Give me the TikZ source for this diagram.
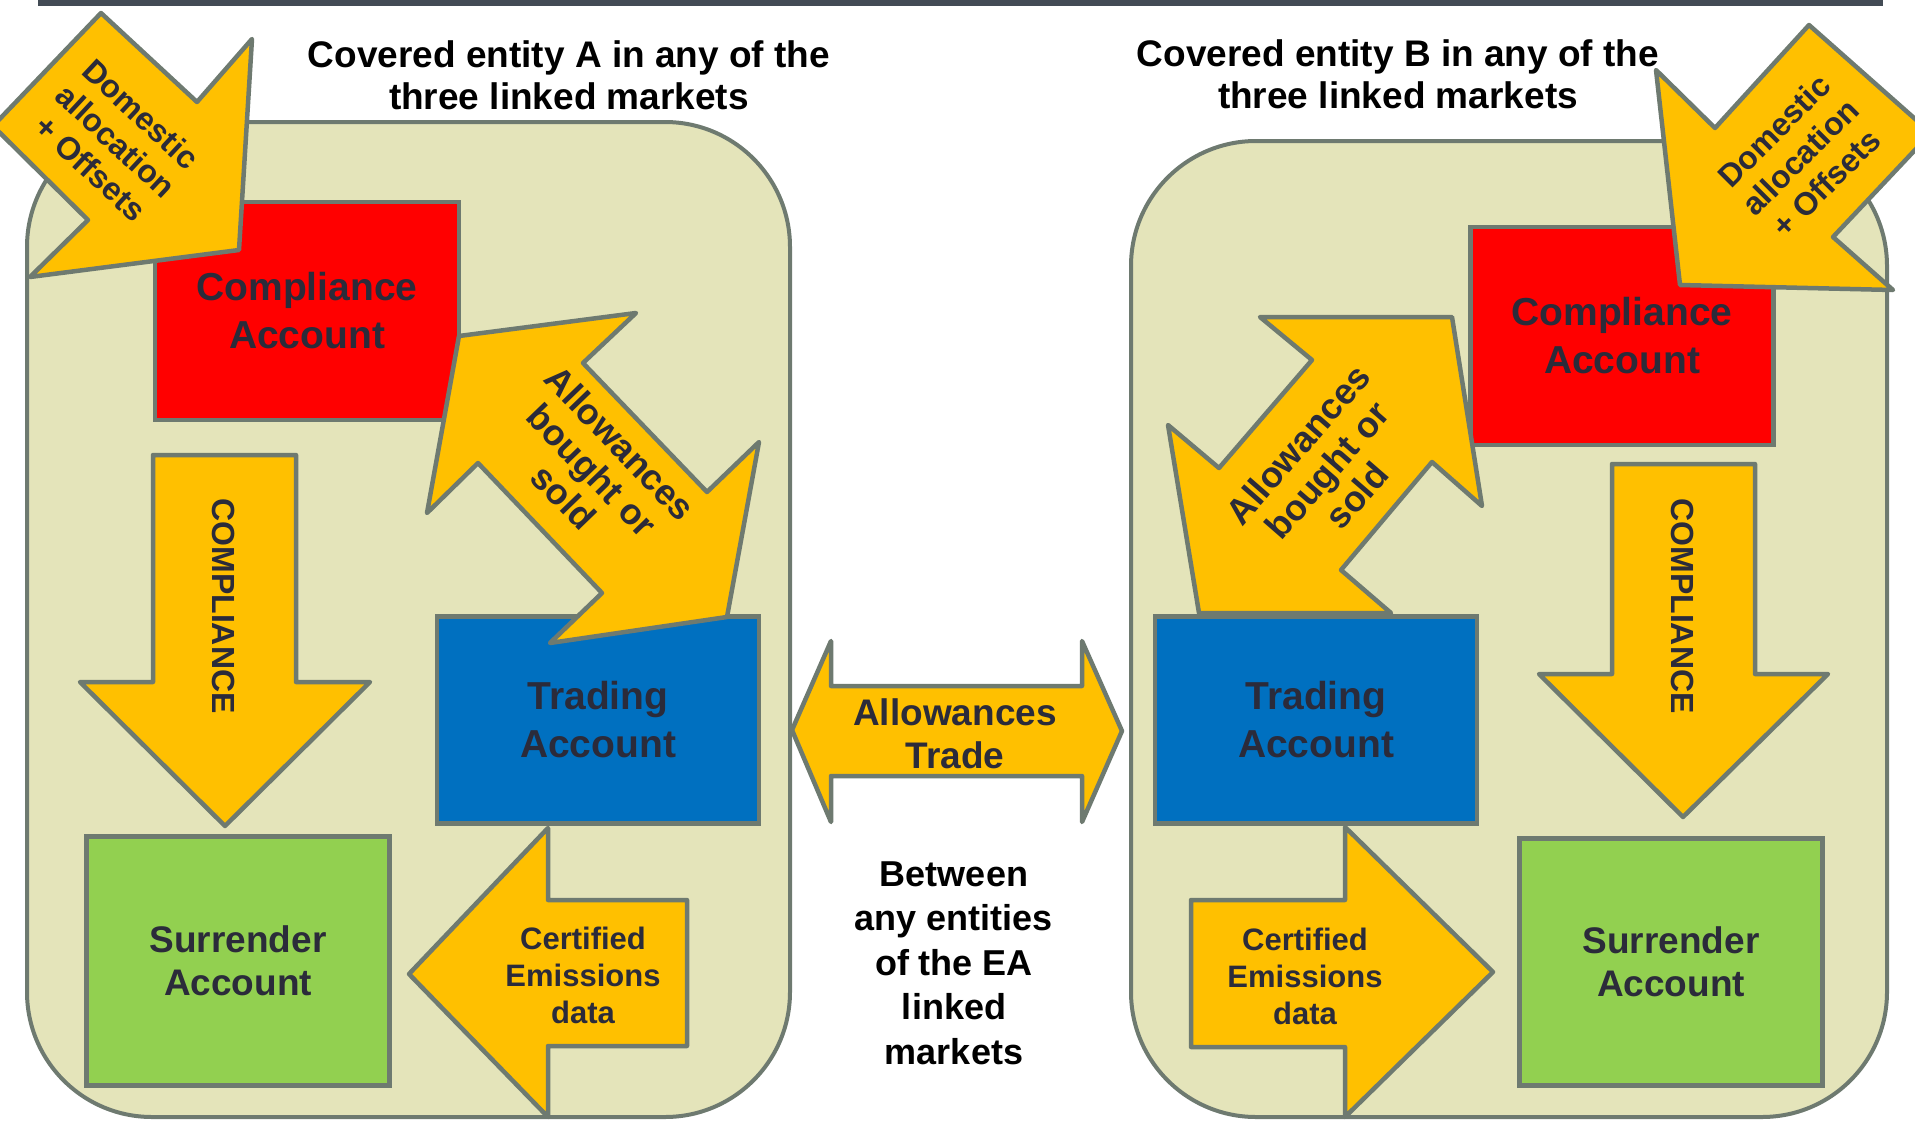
\documentclass[tikz,border=0pt]{standalone}
\usepackage{fontspec}
\setmainfont{Liberation Sans}
\definecolor{amber}{RGB}{255,192,0}
\definecolor{edgegray}{RGB}{110,122,112}
\definecolor{panelkhaki}{RGB}{228,228,186}
\definecolor{accred}{RGB}{255,0,0}
\definecolor{accblue}{RGB}{0,112,192}
\definecolor{accgreen}{RGB}{146,208,80}
\definecolor{inktext}{RGB}{43,43,58}
\definecolor{barslate}{RGB}{67,75,85}
\begin{document}
\begin{tikzpicture}[x=1pt,y=-1pt,
  panel/.style={draw=edgegray,line width=4pt,fill=panelkhaki,rounded corners=125pt},
  account/.style={draw=edgegray,line width=4.5pt,text=inktext,align=center,inner sep=0pt,
    font=\bfseries\fontsize{39}{48}\selectfont},
  fatarrow/.style={draw=edgegray,line width=4.5pt,fill=amber,line join=round},
  arrowtext/.style={text=inktext,align=center,inner sep=0pt},
  headline/.style={text=black,align=center,inner sep=0pt}]
\useasboundingbox (0,0) rectangle (1915,1122);
\clip (0,0) rectangle (1915,1122);
% bandeau du haut
\fill [barslate] (38,0) rectangle (1883,6);
% cadres des deux entites
\draw [panel] (27,122) rectangle (790,1117);
\draw [panel] (1131,141) rectangle (1887,1117);
% titres
\node [headline,font=\bfseries\fontsize{37}{42}\selectfont] (titleA) at (569,75) {Covered entity A in any of the\\three linked markets};
\node [headline,font=\bfseries\fontsize{37}{42}\selectfont] (titleB) at (1398,74) {Covered entity B in any of the\\three linked markets};
% comptes entite A
\node [account,fill=accred,minimum width=304,minimum height=218] (complA) at (307,311) {Compliance\\Account};
\node [account,fill=accblue,minimum width=322,minimum height=207] (tradeA) at (598,720) {Trading\\Account};
\node [account,fill=accgreen,minimum width=303,minimum height=249,font=\bfseries\fontsize{37}{43}\selectfont] (surrA) at (238,961) {Surrender\\Account};
% comptes entite B
\node [account,fill=accred,minimum width=303,minimum height=218] (complB) at (1622,336) {Compliance\\Account};
\node [account,fill=accblue,minimum width=322,minimum height=207] (tradeB) at (1316,720) {Trading\\Account};
\node [account,fill=accgreen,minimum width=303,minimum height=247,font=\bfseries\fontsize{37}{43}\selectfont] (surrB) at (1671,962) {Surrender\\Account};
% fleches entite A
\draw [fatarrow] (101,13) -- (197,102) -- (252,39) -- (239,250) -- (30,277) -- (88,220) -- (-7,126) -- cycle;
\draw [fatarrow] (459,336) -- (636,313) -- (583,363) -- (707,492) -- (759,442) -- (727,617) -- (550,643) -- (602,593) -- (478,463) -- (427,513) -- cycle;
\draw [fatarrow] (153,455) -- (296,455) -- (296,682) -- (370,682) -- (225,826) -- (80,682) -- (153,682) -- cycle;
\draw [fatarrow] (409,974) -- (548,828) -- (548,900) -- (687,900) -- (687,1046) -- (548,1046) -- (548,1117) -- cycle;
% fleches entite B
\draw [fatarrow] (1809,25) -- (1715,128) -- (1656,70) -- (1680,285) -- (1893,290) -- (1833,237) -- (1931,133) -- cycle;
\draw [fatarrow] (1260,317) -- (1452,317) -- (1482,506) -- (1432,462) -- (1341,570) -- (1391,613) -- (1199,613) -- (1168,425) -- (1219,468) -- (1312,360) -- cycle;
\draw [fatarrow] (1612,464) -- (1755,464) -- (1755,674) -- (1828,674) -- (1683,817) -- (1539,674) -- (1612,674) -- cycle;
\draw [fatarrow] (1191,900) -- (1345,900) -- (1345,827) -- (1493,972) -- (1345,1117) -- (1345,1047) -- (1191,1047) -- cycle;
% echange entre A et B
\draw [fatarrow] (792,730) -- (831,641) -- (831,686) -- (1082,686) -- (1082,641) -- (1122,731) -- (1082,822) -- (1082,776) -- (831,776) -- (831,822) -- cycle;
% textes des fleches
\node [arrowtext,rotate=-43,font=\bfseries\fontsize{32}{37}\selectfont] (domA) at (116,141) {Domestic\\allocation\\+ Offsets};
\node [arrowtext,rotate=45,font=\bfseries\fontsize{32}{37}\selectfont] (domB) at (1800,157) {Domestic\\allocation\\+ Offsets};
\node [arrowtext,rotate=-46,font=\bfseries\fontsize{36}{39}\selectfont] (allowA) at (592,470) {Allowances\\bought or\\sold};
\node [arrowtext,rotate=49,font=\bfseries\fontsize{36}{39}\selectfont] (allowB) at (1327,470) {Allowances\\bought or\\sold};
\node [arrowtext,rotate=-90,font=\bfseries\fontsize{32}{38}\selectfont] (surrenderA) at (224,606) {COMPLIANCE};
\node [arrowtext,rotate=-90,font=\bfseries\fontsize{32}{38}\selectfont] (surrenderB) at (1682,606) {COMPLIANCE};
\node [arrowtext,font=\bfseries\fontsize{31}{37}\selectfont] (certA) at (583,975) {Certified\\Emissions\\data};
\node [arrowtext,font=\bfseries\fontsize{31}{37}\selectfont] (certB) at (1305,976) {Certified\\Emissions\\data};
\node [arrowtext,font=\bfseries\fontsize{37}{43}\selectfont] (trade) at (955,734) {Allowances\\Trade};
\node [headline,font=\bfseries\fontsize{36}{44.5}\selectfont] (between) at (954,963) {Between\\any entities\\of the EA\\linked\\markets};
\end{tikzpicture}
\end{document}
